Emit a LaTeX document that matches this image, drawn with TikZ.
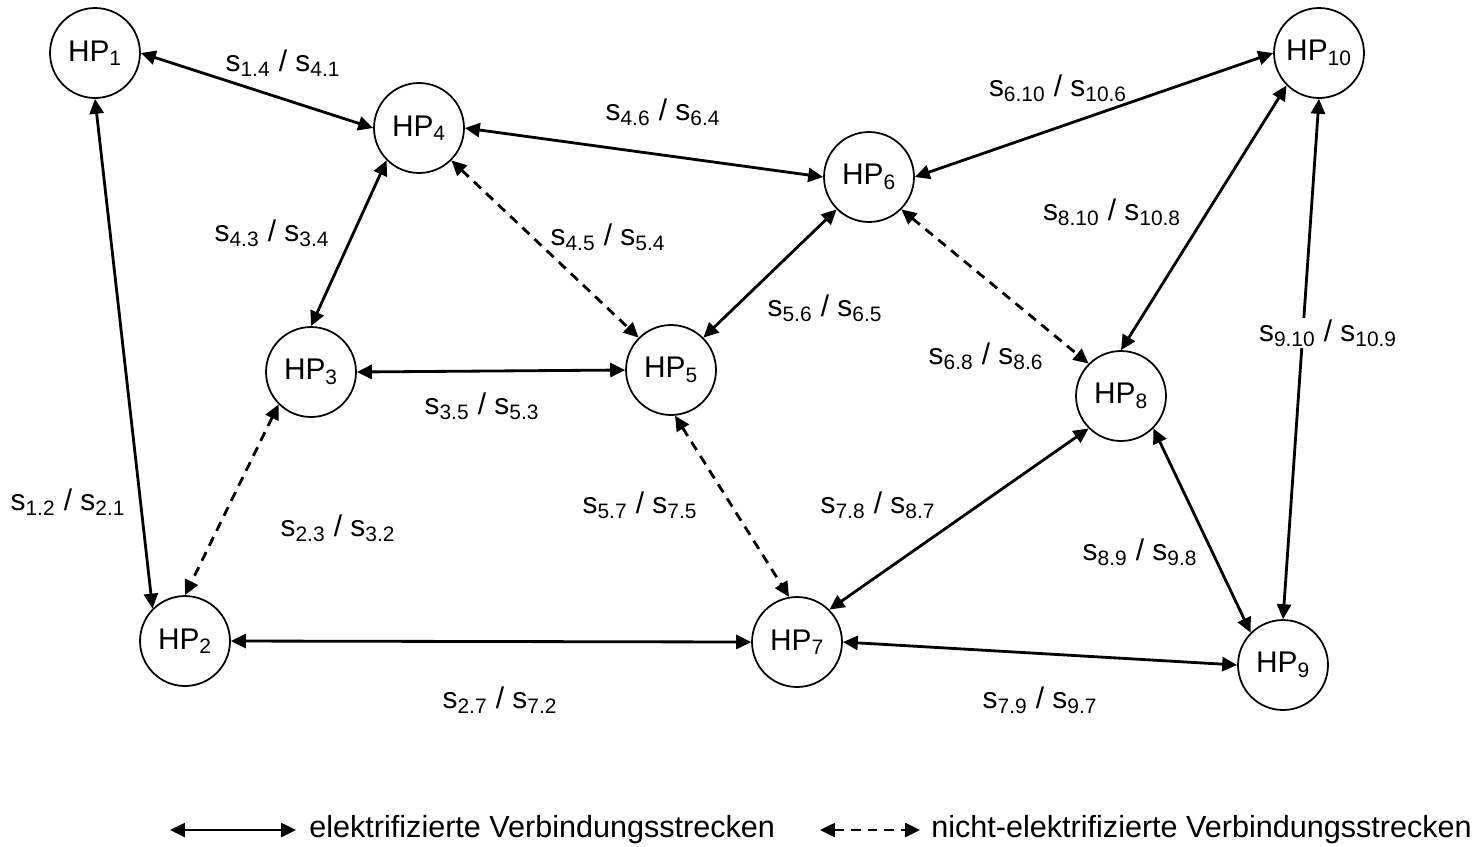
\documentclass[tikz,border=0pt]{standalone}
\usepackage{fontspec}
\setmainfont{Liberation Sans}
\usetikzlibrary{arrows.meta, positioning, calc}

\newcommand{\hp}[1]{HP\textsubscript{#1}}
\newcommand{\strecke}[2]{s\textsubscript{#1} / s\textsubscript{#2}}

\begin{document}
\begin{tikzpicture} [x = 0.02cm, y = -0.02cm, <->, >= {Triangle[length = 8.5pt, width = 8pt]}, line width = 1.6pt, font = \fontsize{17}{20}\selectfont, hpnode/.style = {draw, circle, line width = 1pt, minimum size = 1.8cm, inner sep = 0pt}, nonel/.style = {dash pattern = on 5.5pt off 4pt}]

\useasboundingbox (0,0) rectangle (1476,846);

\node [hpnode] (hp1) at (95,53) {\hp{1}};
\node [hpnode] (hp4) at (419,128) {\hp{4}};
\node [hpnode] (hp6) at (869,177) {\hp{6}};
\node [hpnode] (hp10) at (1319,53) {\hp{10}};
\node [hpnode] (hp3) at (311,372) {\hp{3}};
\node [hpnode] (hp5) at (671,370) {\hp{5}};
\node [hpnode] (hp8) at (1121,396) {\hp{8}};
\node [hpnode] (hp2) at (185,641) {\hp{2}};
\node [hpnode] (hp7) at (797,642) {\hp{7}};
\node [hpnode] (hp9) at (1283,665) {\hp{9}};

\draw (hp1.south) -- (hp2.north west);
\draw (hp1.east) -- (hp4.west);
\draw (hp4.east) -- (hp6.west);
\draw (hp6.east) -- (hp10.west);
\draw (hp4.south west) -- (hp3.north);
\draw [nonel] (hp4.south east) -- (hp5.north west);
\draw (hp3.east) -- (hp5.west);
\draw (hp5.north east) -- (hp6.south west);
\draw [nonel] (hp6.south east) -- (hp8.north west);
\draw (hp10.south west) -- (hp8.north);
\draw (hp10.south) -- (hp9.north);
\draw [nonel] (hp3.south west) -- (hp2.north);
\draw [nonel] (hp5.-85) -- (hp7.100);
\draw (hp7.north east) -- (hp8.south west);
\draw (hp8.south east) -- (hp9.north west);
\draw (hp2.east) -- (hp7.west);
\draw (hp7.east) -- (hp9.west);

% Streckenbezeichnungen
\node (s14) at (283,63) {\strecke{1.4}{4.1}};
\node (s46) at (663,112) {\strecke{4.6}{6.4}};
\node (s610) at (1058,88) {\strecke{6.10}{10.6}};
\node (s810) at (1112,212) {\strecke{8.10}{10.8}};
\node (s43) at (272,233) {\strecke{4.3}{3.4}};
\node (s45) at (608,237) {\strecke{4.5}{5.4}};
\node (s56) at (825,308) {\strecke{5.6}{6.5}};
\node [fill = white, inner sep = 1pt] (s910) at (1328,333) {\strecke{9.10}{10.9}};
\node (s68) at (986,356) {\strecke{6.8}{8.6}};
\node (s35) at (482,406) {\strecke{3.5}{5.3}};
\node (s12) at (68,502) {\strecke{1.2}{2.1}};
\node (s23) at (338,528) {\strecke{2.3}{3.2}};
\node (s57) at (640,505) {\strecke{5.7}{7.5}};
\node (s78) at (878,505) {\strecke{7.8}{8.7}};
\node (s89) at (1140,552) {\strecke{8.9}{9.8}};
\node (s27) at (500,700) {\strecke{2.7}{7.2}};
\node (s79) at (1040,700) {\strecke{7.9}{9.7}};

% Legende
\node [anchor = west, inner sep = 0pt, font = \fontsize{17.4}{20}\selectfont] (leg1) at (308,830) {elektrifizierte Verbindungsstrecken};
\node [anchor = west, inner sep = 0pt, font = \fontsize{17.4}{20}\selectfont] (leg2) at (930,830) {nicht-elektrifizierte Verbindungsstrecken};
\coordinate (leg1a) at (170,830);
\coordinate (leg2a) at (820,830);
\draw [line width = 1.3pt] (leg1a) -- ($(leg1.west)+(-12,0)$);
\draw [line width = 1.3pt, nonel] (leg2a) -- ($(leg2.west)+(-10,0)$);

\end{tikzpicture}
\end{document}
